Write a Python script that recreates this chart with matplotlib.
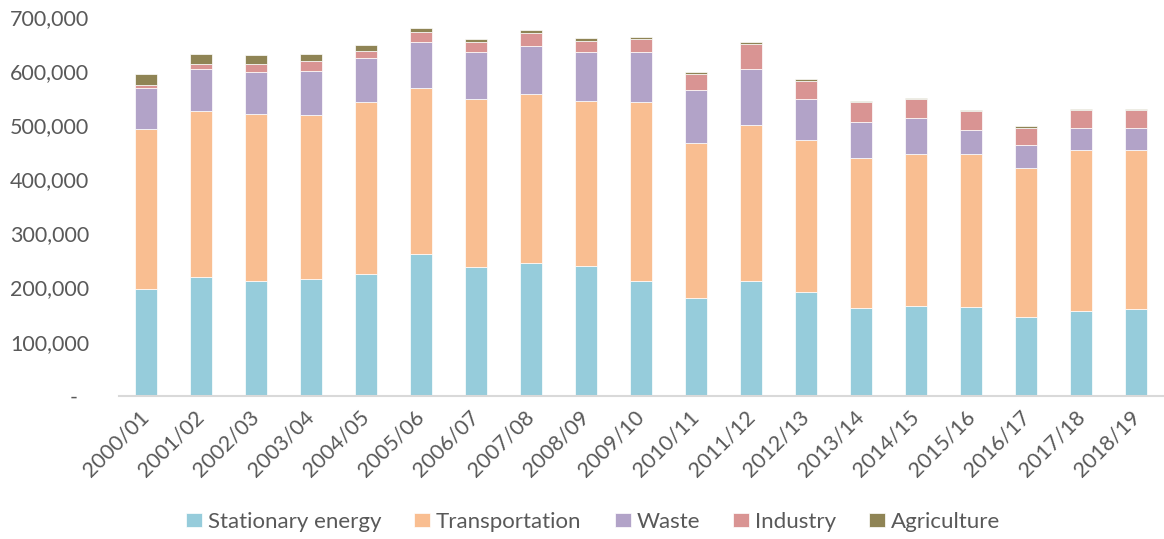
import matplotlib
matplotlib.use("Agg")
import matplotlib.pyplot as plt
import numpy as np

years = ["2000/01", "2001/02", "2002/03", "2003/04", "2004/05", "2005/06", "2006/07",
         "2007/08", "2008/09", "2009/10", "2010/11", "2011/12", "2012/13", "2013/14",
         "2014/15", "2015/16", "2016/17", "2017/18", "2018/19"]
stationary = [198000, 220000, 213000, 215000, 226000, 263000, 239000, 245000, 240000, 212000,
              181000, 212000, 192000, 163000, 166000, 165000, 146000, 157000, 161000]
transport = [295000, 307000, 308000, 305000, 318000, 306000, 310000, 313000, 305000, 331000,
             286000, 289000, 281000, 277000, 282000, 283000, 276000, 297000, 294000]
waste = [76000, 77000, 77000, 80000, 81000, 85000, 86000, 88000, 90000, 93000,
         98000, 103000, 75000, 66000, 65000, 44000, 41000, 41000, 40000]
industry = [6000, 10000, 16000, 19000, 13000, 19000, 19000, 25000, 22000, 24000,
            30000, 47000, 35000, 37000, 36000, 35000, 33000, 33000, 33000]
agriculture = [20000, 19000, 16000, 13000, 10000, 8000, 5000, 5000, 4000, 4000,
               4000, 4000, 2000, 1500, 2000, 1500, 2000, 2000, 3000]

series = [("Stationary energy", stationary, "#96CCDB"),
          ("Transportation", transport, "#F9BE91"),
          ("Waste", waste, "#B2A3C8"),
          ("Industry", industry, "#D99493"),
          ("Agriculture", agriculture, "#8F8455")]

plt.rcParams['font.family'] = ['Lato', 'DejaVu Sans']
txt = "#595959"

fig = plt.figure(figsize=(11.64, 5.39), dpi=100)
ax = fig.add_axes([118.5 / 1164, 143.3 / 539, 1 - 118.5 / 1164, (521.7 - 143.3) / 539])

x = np.arange(len(years))
bottom = np.zeros(len(years))
for name, vals, col in series:
    v = np.array(vals, dtype=float)
    ax.bar(x, v, width=0.4, bottom=bottom, color=col, label=name,
           edgecolor="white", linewidth=0.5)
    bottom += v

ax.set_xlim(-0.5, len(years) - 0.5)
ax.set_ylim(0, 700000)
yt = np.arange(0, 700001, 100000)
ax.set_yticks(yt)
ax.set_yticklabels(["-  " if t == 0 else f"{int(t):,}" for t in yt])
ax.set_xticks(x)
ax.set_xticklabels(years, rotation=45, ha="right", va="center", rotation_mode="anchor")

for s in ["top", "right", "left"]:
    ax.spines[s].set_visible(False)
ax.spines["bottom"].set_color("#D9D9D9")
ax.spines["bottom"].set_linewidth(1.5)
ax.tick_params(axis="y", length=0, pad=21, labelsize=15.5, labelcolor=txt)
ax.tick_params(axis="x", length=0, pad=13, labelsize=15.5, labelcolor=txt)

leg = fig.legend(loc="center", bbox_to_anchor=(593 / 1164, 1 - 522 / 539), ncol=5,
                 frameon=False, fontsize=16, handlelength=0.72, handleheight=0.55,
                 handletextpad=0.25, columnspacing=1.5, labelcolor=txt)

fig.savefig("out.png", dpi=100)
